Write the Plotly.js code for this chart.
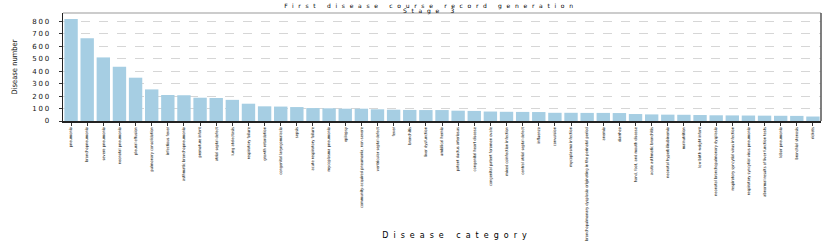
<!DOCTYPE html>
<html>
<head>
<meta charset="utf-8">
<script src="https://cdn.plot.ly/plotly-3.0.1.min.js"></script>
<style>
  html, body { margin: 0; padding: 0; background: #fff; }
  #chart { width: 831px; height: 245px; }
  .gtitle { letter-spacing: 4.7px; }
  .xtitle { letter-spacing: 5px; }
  .ytick text { letter-spacing: 1.8px; }
</style>
</head>
<body>
<div id="chart"></div>
<script>
const categories = [
  "pneumonia", "bronchopneumonia", "severe pneumonia", "neonatal pneumonia",
  "pleural effusion", "pulmonary consolidation", "infectious fever",
  "asthmatic bronchopneumonia", "premature infant", "atrial septal defect",
  "lung atelectasis", "respiratory failure", "growth retardation",
  "congenital laryngomalacia", "sepsis", "acute respiratory failure",
  "mycoplasma pneumonia", "epilepsy", "community-acquired pneumonia, non-severe",
  "ventricular septal defect", "fever", "bronchitis", "liver dysfunction",
  "umbilical hernia", "patent ductus arteriosus", "congenital heart disease",
  "congenital patent foramen ovale", "mixed coinfection infection",
  "central atrial septal defect", "influenza", "convulsion",
  "mycoplasma infection",
  "bronchopulmonary dysplasia originating in the perinatal period",
  "anemia", "diarrhea", "hand, foot, and mouth disease",
  "acute asthmatic bronchitis", "neonatal hyperbilirubinemia", "malnutrition",
  "low birth weight infant", "neonatal bronchopulmonary dysplasia",
  "respiratory syncytial virus infection",
  "respiratory syncytial virus pneumonia",
  "abnormal results of liver function tests", "lobar pneumonia",
  "bronchial stenosis", "rickets"
];
const diseaseCounts = [
  819, 665, 511, 436, 348, 254, 209, 207, 187, 185,
  170, 139, 118, 116, 112, 104, 102, 99, 99, 94,
  91, 89, 88, 88, 83, 81, 76, 74, 73, 72,
  66, 66, 65, 65, 64, 56, 53, 51, 50, 48,
  46, 45, 44, 43, 42, 41, 36
];
const yTickVals = [0, 100, 200, 300, 400, 500, 600, 700, 800];

const trace = {
  type: "bar",
  x: categories,
  y: diseaseCounts,
  marker: { color: "#a6cee3", line: { width: 0 } },
  hoverinfo: "x+y"
};

const layout = {
  width: 831,
  height: 245,
  margin: { l: 63, r: 10, t: 13, b: 124 },
  paper_bgcolor: "#ffffff",
  plot_bgcolor: "#ffffff",
  bargap: 0.17,
  showlegend: false,
  title: {
    text: "First disease course record generation<br>Stage 3",
    font: { family: "DejaVu Sans", size: 6, color: "#000" },
    x: 0.519, xanchor: "center",
    xref: "container", yref: "container",
    y: 0.965, yanchor: "middle"
  },
  xaxis: {
    type: "category",
    range: [-0.5, categories.length - 0.5],
    tickangle: -90,
    tickfont: { family: "Liberation Sans Narrow, DejaVu Sans Condensed, sans-serif", size: 4.0, color: "#000" },
    ticks: "outside", ticklen: 3, tickwidth: 1, tickcolor: "#333",
    showgrid: false,
    showline: true, linecolor: "#222", linewidth: 1.5,
    mirror: false,
    automargin: false,
    title: {
      text: "Disease category",
      font: { family: "DejaVu Sans", size: 8, color: "#000" },
      standoff: 0
    }
  },
  yaxis: {
    range: [0, 868],
    tickvals: yTickVals,
    ticktext: yTickVals.map(String),
    tickfont: { family: "DejaVu Sans", size: 7, color: "#111" },
    ticks: "outside", ticklen: 3, tickwidth: 1, tickcolor: "#333",
    ticklabelstandoff: 6,
    showgrid: true, gridcolor: "#cccccc", griddash: "dash", gridwidth: 0.8,
    zeroline: false,
    showline: true, linecolor: "#222", linewidth: 1.5,
    automargin: false,
    title: {
      text: "Disease number",
      font: { family: "Liberation Sans Narrow, DejaVu Sans Condensed, sans-serif", size: 7.5, color: "#111" },
      standoff: 14
    }
  },
  shapes: [
    { type: "line", xref: "paper", yref: "paper", x0: 0, x1: 1, y0: 1, y1: 1, line: { color: "#999", width: 1.2 } },
    { type: "line", xref: "paper", yref: "paper", x0: 1, x1: 1, y0: 0, y1: 1, line: { color: "#555", width: 1.5 } }
  ]
};

function adjustTitles() {
  const xt = document.querySelector("text.xtitle");
  if (xt) { xt.setAttribute("y", "241"); xt.setAttribute("x", "457"); }
  const yt = document.querySelector("text.ytitle");
  if (yt) {
    const x = 17;
    yt.setAttribute("x", x);
    const yv = yt.getAttribute("y");
    yt.setAttribute("transform", "rotate(-90," + x + "," + yv + ")");
  }
  const gt = document.querySelector("text.gtitle");
  if (gt) {
    gt.setAttribute("y", "5.6");
    gt.removeAttribute("transform");
    const lines = gt.querySelectorAll("tspan.line");
    lines.forEach((t, i) => {
      t.setAttribute("x", "431");
      t.setAttribute("y", i === 0 ? "5.6" : "13.1");
      t.removeAttribute("dy");
    });
  }
}

Plotly.newPlot("chart", [trace], layout, { displayModeBar: false, staticPlot: true }).then(() => {
  adjustTitles();
  setTimeout(adjustTitles, 50);
});
</script>
</body>
</html>
